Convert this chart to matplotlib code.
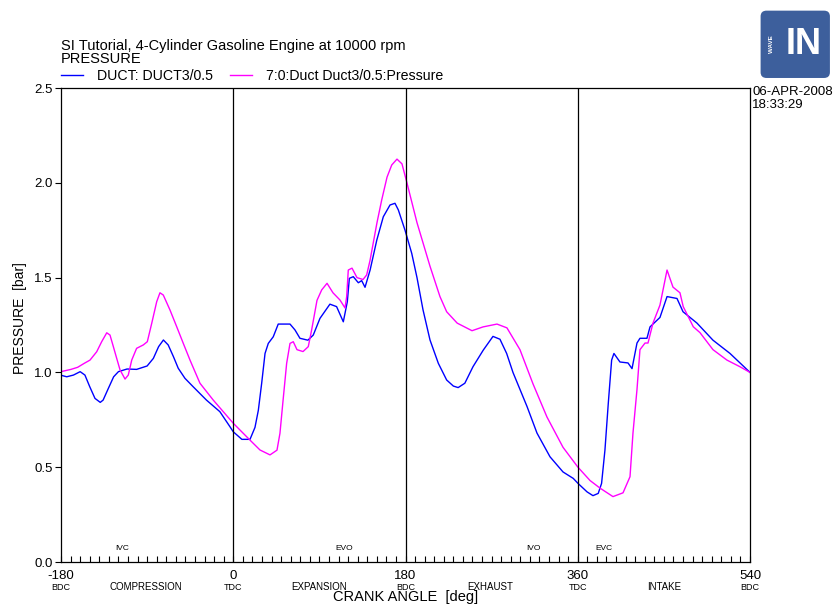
import matplotlib.pyplot as plt
import numpy as np
from matplotlib.patches import FancyBboxPatch, Wedge

plt.rcParams['font.family'] = ['Liberation Sans', 'DejaVu Sans']
plt.rcParams['axes.unicode_minus'] = False

# duct pressure vs crank angle, two runs
blue_deg = [-180, -174, -167, -160, -155, -150, -144.5, -139, -136, -130.5, -125, -120, -111,
            -101, -90, -83.5, -78, -73, -68, -62.5, -57.5, -50.5, -42, -28, -14, -3.5, 0,
            9, 17.5, 22.7, 26.2, 29.7, 33.2, 36.6, 41.8, 47, 59.3, 64.5, 69.7, 78, 83.6,
            90.6, 101, 108, 115, 119.2, 121.3, 125.4, 130.7, 134.2, 137.7, 143, 150, 156.8,
            163.8, 169, 172.5, 179.5, 186.5, 192, 198.3, 205.6, 214.3, 223, 230, 235, 242,
            250.5, 261.3, 271.4, 278.7, 285.7, 292.3, 307, 317.4, 331, 344.6, 355.3, 360.2,
            369.7, 375.9, 381.4, 384.9, 388.4, 391.9, 395.4, 397.8, 404.1, 412.5, 416.7,
            421.9, 425, 432.3, 435.5, 445.9, 453.3, 463.7, 470, 484.6, 501.3, 519.1, 540]
blue_p = [0.985, 0.977, 0.986, 1.004, 0.986, 0.925, 0.863, 0.842, 0.854, 0.916, 0.977, 1.004,
          1.018, 1.016, 1.034, 1.074, 1.136, 1.171, 1.145, 1.083, 1.022, 0.969, 0.925, 0.854,
          0.793, 0.714, 0.687, 0.647, 0.647, 0.71, 0.80, 0.943, 1.10, 1.153, 1.188, 1.255,
          1.255, 1.224, 1.18, 1.17, 1.197, 1.285, 1.36, 1.347, 1.267, 1.373, 1.496, 1.505,
          1.473, 1.484, 1.449, 1.54, 1.698, 1.821, 1.883, 1.892, 1.857, 1.75, 1.628, 1.50,
          1.33, 1.171, 1.048, 0.96, 0.928, 0.92, 0.943, 1.03, 1.118, 1.19, 1.175, 1.10, 1.00,
          0.82, 0.68, 0.555, 0.475, 0.441, 0.415, 0.37, 0.35, 0.362, 0.415, 0.59, 0.837,
          1.065, 1.10, 1.055, 1.05, 1.02, 1.155, 1.18, 1.18, 1.24, 1.29, 1.40, 1.39, 1.32,
          1.26, 1.17, 1.10, 1.00]

mag_deg = [-180, -169.6, -162.6, -155.7, -149.7, -142.7, -137.5, -132.2, -128.8, -125.3,
           -121.8, -118.3, -113.1, -109.7, -106.1, -101, -94, -89.8, -85.2, -80, -76.6,
           -73.1, -66.1, -59.1, -52.2, -45.2, -34.8, -20.9, 0, 17.5, 27.9, 38.4, 45.7, 48.8,
           52, 55.8, 59.3, 62.7, 66.6, 72.9, 78.4, 81.9, 87.5, 92.4, 98, 104.2, 111.5, 116.8,
           118.5, 120.2, 124.1, 129.3, 135.6, 139.4, 142.9, 150.2, 155.1, 160.7, 165.6,
           171.1, 176.3, 181.5, 192, 205.6, 216, 223, 234, 249.5, 261, 275.6, 286, 299.6,
           313.2, 327.8, 344.6, 360.2, 372.8, 383.2, 396.8, 407.3, 414.6, 417.7, 421.9, 425,
           430.3, 433.4, 438.6, 445.9, 453.3, 459.5, 466.8, 470.2, 480.7, 487.7, 501.3, 515.9,
           529.5, 540]
mag_p = [1.004, 1.016, 1.027, 1.048, 1.065, 1.109, 1.162, 1.209, 1.197, 1.136, 1.074, 1.013,
         0.965, 0.986, 1.065, 1.127, 1.145, 1.162, 1.259, 1.373, 1.42, 1.408, 1.329, 1.241,
         1.153, 1.065, 0.943, 0.854, 0.732, 0.643, 0.591, 0.565, 0.59, 0.679, 0.85, 1.048,
         1.153, 1.162, 1.12, 1.11, 1.136, 1.224, 1.38, 1.435, 1.47, 1.42, 1.382, 1.34, 1.399,
         1.54, 1.55, 1.50, 1.49, 1.514, 1.59, 1.79, 1.909, 2.03, 2.094, 2.125, 2.10, 2.00,
         1.79, 1.56, 1.40, 1.32, 1.26, 1.22, 1.24, 1.255, 1.235, 1.12, 0.94, 0.765, 0.605,
         0.50, 0.43, 0.39, 0.345, 0.365, 0.45, 0.68, 0.91, 1.12, 1.155, 1.155, 1.26, 1.355,
         1.54, 1.45, 1.42, 1.347, 1.241, 1.21, 1.12, 1.065, 1.03, 1.00]

major_ticks = [-180, 0, 180, 360, 540]
dead_centres = ['BDC', 'TDC', 'BDC', 'TDC', 'BDC']
strokes = ['COMPRESSION', 'EXPANSION', 'EXHAUST', 'INTAKE']
stroke_pos = [-91, 90, 269, 450]
events = ['IVC', 'EVO', 'IVO', 'EVC']
event_pos = [-116, 116, 314, 387]

fig = plt.figure(figsize=(8.38, 6.07), dpi=100)
ax = fig.add_axes([0.0728, 0.0741, 0.8222, 0.7809])

ax.plot(blue_deg, blue_p, color='#0000ff', lw=1.0, label='DUCT: DUCT3/0.5')
ax.plot(mag_deg, mag_p, color='#ff00ff', lw=1.0, label='7:0:Duct Duct3/0.5:Pressure')
for x in [0, 180, 360]:
    ax.axvline(x, color='black', lw=0.9)

ax.set_xlim(-180, 540)
ax.set_ylim(0, 2.5)
ax.set_xticks(major_ticks)
ax.set_xticks(np.arange(-180, 541, 10), minor=True)
ax.set_yticks([0, 0.5, 1.0, 1.5, 2.0, 2.5])
ax.set_yticklabels(['0.0', '0.5', '1.0', '1.5', '2.0', '2.5'])
ax.tick_params(axis='x', which='both', direction='in', length=4, width=0.8, labelsize=9.5,
               pad=5.5)
ax.tick_params(axis='y', direction='out', length=4, width=0.8, labelsize=9.5, pad=2)
for s in ax.spines.values():
    s.set_linewidth(0.9)

trans = ax.get_xaxis_transform()
for x, t in zip(major_ticks, dead_centres):
    ax.text(x, -0.053, t, transform=trans, ha='center', va='center', fontsize=6.5)
for x, t in zip(stroke_pos, strokes):
    ax.text(x, -0.053, t, transform=trans, ha='center', va='center', fontsize=7)
for x, t in zip(event_pos, events):
    ax.text(x, 0.029, t, transform=trans, ha='center', va='center', fontsize=6)

ax.set_xlabel('CRANK ANGLE  [deg]', fontsize=10.5, labelpad=6)
ax.set_ylabel('PRESSURE  [bar]', fontsize=10)
ax.yaxis.set_label_coords(-0.05, 0.515)

ax.legend(loc='center left', bbox_to_anchor=(0, 1.025), ncol=2, frameon=False,
          fontsize=10.2, handlelength=1.55, handletextpad=1.0, columnspacing=1.2,
          borderaxespad=0, borderpad=0)

fig.text(0.0728, 0.9242, 'SI Tutorial, 4-Cylinder Gasoline Engine at 10000 rpm',
         fontsize=10.5, ha='left', va='center')
fig.text(0.0728, 0.9036, 'PRESSURE', fontsize=10.5, ha='left', va='center')

fig.text(0.8974, 0.8484, '06-APR-2008', fontsize=9.5, ha='left', va='center')
fig.text(0.8974, 0.827, '18:33:29', fontsize=9.5, ha='left', va='center')

# WAVE logo
logo = fig.add_axes([0.905, 0.868, 0.088, 0.118])
logo.set_xlim(0, 1)
logo.set_ylim(0, 1)
logo.axis('off')
logo.add_patch(FancyBboxPatch((0.03, 0.03), 0.94, 0.94, boxstyle='round,pad=0,rounding_size=0.08',
                              fc='#3d5f9c', ec='none'))
logo.text(0.62, 0.5, 'IN', color='white', fontsize=26, fontweight='bold', ha='center',
          va='center')
for r in [0.12, 0.2, 0.28, 0.36]:
    logo.add_patch(Wedge((0.3, 0.2), r, 15, 75, width=0.035, fc='#3d5f9c', ec='none'))
logo.text(0.18, 0.5, 'WAVE', color='white', fontsize=4.5, rotation=90, ha='center',
          va='center', fontweight='bold')

fig.savefig('out.png', dpi=100)
